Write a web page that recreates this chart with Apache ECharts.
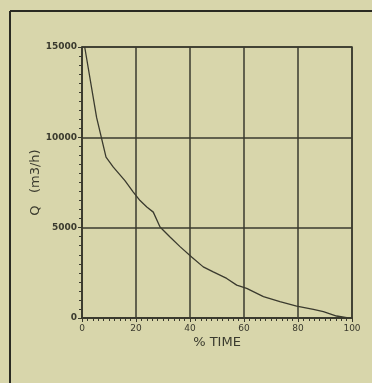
<!DOCTYPE html>
<html><head><meta charset="utf-8">
<script src="https://cdn.jsdelivr.net/npm/echarts@6/dist/echarts.min.js"></script>
<style>html,body{margin:0;padding:0;background:#d8d6ab;}#c{width:372px;height:383px;}</style>
</head><body><div id="c"></div>
<script>
const timePct = [1, 1.5, 5.4, 8.9, 11.6, 15.9, 19, 21.5, 24, 26.4, 28.9, 32.6, 36.3, 40.6, 44.9, 48.6, 53.6, 57.3, 61, 67.2, 73.3, 79.5, 85.7, 89.4, 94.3, 98.6];
const flowQ = [15000, 14900, 11100, 8900, 8350, 7600, 6970, 6500, 6140, 5860, 5040, 4480, 3950, 3380, 2830, 2550, 2190, 1820, 1640, 1180, 900, 660, 480, 350, 110, 0];
const xTicks = [0, 20, 40, 60, 80, 100];
const yTicks = [0, 5000, 10000, 15000];
const xName = '% TIME';
const yName = 'Q   (m3/h)';

const ink = '#3a3a2e';
const chart = echarts.init(document.getElementById('c'));
chart.setOption({
  backgroundColor: '#d8d6ab',
  animation: false,
  grid: {left: 82, right: 20, top: 47, bottom: 65, show: true, borderColor: ink, borderWidth: 1.5},
  xAxis: {
    type: 'value', min: xTicks[0], max: xTicks[xTicks.length-1], interval: 20,
    name: xName, nameLocation: 'middle', nameGap: 18, nameMoveOverlap: false,
    nameTextStyle: {fontFamily: 'DejaVu Sans', fontSize: 13, color: ink},
    axisLine: {show: true, lineStyle: {color: ink, width: 1.5}},
    axisTick: {show: true, length: 4, lineStyle: {color: ink}},
    minorTick: {show: true, splitNumber: 10, length: 3, lineStyle: {color: ink}},
    axisLabel: {fontFamily: 'DejaVu Sans', fontSize: 9, color: ink, margin: 6, formatter: v => String(v)},
    splitLine: {show: true, lineStyle: {color: ink, width: 1.5}}
  },
  yAxis: {
    type: 'value', min: yTicks[0], max: yTicks[yTicks.length-1], interval: 5000,
    name: yName, nameLocation: 'middle', nameGap: 40, nameRotate: 90, nameMoveOverlap: false,
    nameTextStyle: {fontFamily: 'DejaVu Sans', fontSize: 13, color: ink},
    axisLine: {show: true, lineStyle: {color: ink, width: 1.5}},
    axisTick: {show: true, length: 4, lineStyle: {color: ink}},
    minorTick: {show: true, splitNumber: 10, length: 3, lineStyle: {color: ink}},
    axisLabel: {fontFamily: 'DejaVu Sans', fontSize: 9, fontWeight: 'bold', color: ink, margin: 5, formatter: v => String(v)},
    splitLine: {show: true, lineStyle: {color: ink, width: 1.5}}
  },
  graphic: [
    {type: 'line', shape: {x1: 10, y1: 11, x2: 372, y2: 11}, style: {stroke: '#2a2a22', lineWidth: 2}},
    {type: 'line', shape: {x1: 10, y1: 11, x2: 10, y2: 383}, style: {stroke: '#2a2a22', lineWidth: 2}}
  ],
  series: [{
    type: 'line', showSymbol: false, smooth: false,
    data: timePct.map((t, i) => [t, flowQ[i]]),
    lineStyle: {color: ink, width: 1.3}
  }]
});
</script></body></html>
